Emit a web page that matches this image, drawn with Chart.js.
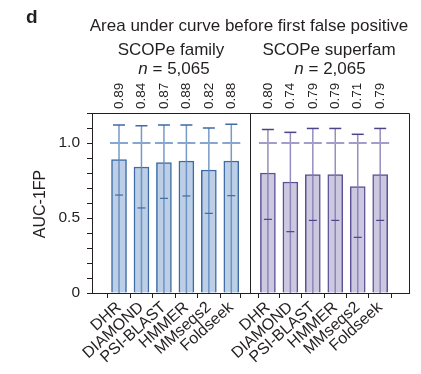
<!DOCTYPE html>
<html>
<head>
<meta charset="utf-8">
<script src="https://cdn.jsdelivr.net/npm/chart.js@4.4.1/dist/chart.umd.min.js"></script>
<style>
  html, body { margin: 0; padding: 0; background: #fff; }
</style>
</head>
<body>
<canvas id="aucChart" width="421" height="374"></canvas>
<script>
const methods = ['DHR', 'DIAMOND', 'PSI-BLAST', 'HMMER', 'MMseqs2', 'Foldseek'];

// SCOPe family (n = 5,065)
const familyAuc = [0.89, 0.84, 0.87, 0.88, 0.82, 0.88];
const familyUpper = [1.12, 1.115, 1.12, 1.12, 1.10, 1.125];
const familyLower = [0.653, 0.567, 0.631, 0.647, 0.531, 0.649];

// SCOPe superfamily (n = 2,065)
const superAuc = [0.80, 0.74, 0.79, 0.79, 0.71, 0.79];
const superUpper = [1.09, 1.071, 1.097, 1.097, 1.058, 1.097];
const superLower = [0.491, 0.409, 0.484, 0.484, 0.371, 0.484];

const capLevel = 1.0;
const yTickLabels = { '0': '0', '0.5': '0.5', '1': '1.0' };

// x layout (axis units: one bar slot = 1)
const groupOffset = 6.63;
const dividerAt = 5.82;
const familyPos = methods.map((m, i) => i);
const superPos = methods.map((m, i) => i + groupOffset);
const xTickPos = [...familyPos, dividerAt, ...superPos];
const xTickLabels = [...methods, '', ...methods];

const ink = '#231f20';
const font = "'Liberation Sans', Arial, sans-serif";

const groups = [
  { pos: familyPos, mean: familyAuc, upper: familyUpper, lower: familyLower,
    stem: 'rgba(95,136,190,0.85)', cap: '#3f6aa3', level: '#86a7d1' },
  { pos: superPos, mean: superAuc, upper: superUpper, lower: superLower,
    stem: 'rgba(130,122,180,0.85)', cap: '#4d4389', level: '#a29dc9' }
];

const decorations = {
  id: 'decorations',
  afterDatasetsDraw(chart) {
    const ctx = chart.ctx;
    const xs = chart.scales.x, ys = chart.scales.y;
    const area = chart.chartArea;

    // error bars
    groups.forEach(g => {
      g.pos.forEach((p, i) => {
        const x = xs.getPixelForValue(p);
        const y0 = ys.getPixelForValue(0);
        const yTop = ys.getPixelForValue(g.upper[i]);
        const yLow = ys.getPixelForValue(g.lower[i]);
        const yCap = ys.getPixelForValue(capLevel);
        ctx.save();
        ctx.lineWidth = 1.5;
        ctx.strokeStyle = g.stem;
        ctx.beginPath(); ctx.moveTo(x, y0); ctx.lineTo(x, yTop); ctx.stroke();
        ctx.strokeStyle = g.level;
        ctx.lineWidth = 2;
        ctx.beginPath(); ctx.moveTo(x - 9, yCap); ctx.lineTo(x + 9, yCap); ctx.stroke();
        ctx.strokeStyle = g.cap;
        ctx.lineWidth = 1.5;
        ctx.beginPath(); ctx.moveTo(x - 6, yTop); ctx.lineTo(x + 6, yTop); ctx.stroke();
        ctx.lineWidth = 1.2;
        ctx.beginPath(); ctx.moveTo(x - 4, yLow); ctx.lineTo(x + 4, yLow); ctx.stroke();
        ctx.restore();

        // value label, rotated
        ctx.save();
        ctx.translate(x, 109);
        ctx.rotate(-Math.PI / 2);
        ctx.fillStyle = ink;
        ctx.font = '13.5px ' + font;
        ctx.textAlign = 'left';
        ctx.textBaseline = 'middle';
        ctx.fillText(g.mean[i].toFixed(2), 0, 0);
        ctx.restore();
      });
    });

    // frame and divider
    ctx.save();
    ctx.strokeStyle = ink;
    ctx.lineWidth = 1;
    const xd = Math.round(xs.getPixelForValue(dividerAt)) + 0.5;
    ctx.beginPath();
    ctx.moveTo(area.left, area.top + 0.5);
    ctx.lineTo(area.right + 0.5, area.top + 0.5);
    ctx.lineTo(area.right + 0.5, area.bottom);
    ctx.moveTo(xd, area.top);
    ctx.lineTo(xd, area.bottom);
    ctx.stroke();
    ctx.restore();

    // titles
    ctx.save();
    ctx.fillStyle = ink;
    ctx.font = 'bold 19px ' + font;
    ctx.textAlign = 'left';
    ctx.textBaseline = 'alphabetic';
    ctx.fillText('d', 26, 23);

    ctx.font = '17px ' + font;
    ctx.textAlign = 'center';
    ctx.fillText('Area under curve before first false positive', 249, 31);
    ctx.fillText('SCOPe family', 171, 55);
    ctx.fillText('SCOPe superfam', 329, 55);

    const nLine = (cx, rest) => {
      ctx.font = 'italic 17px ' + font;
      const wn = ctx.measureText('n').width;
      ctx.font = '17px ' + font;
      const wr = ctx.measureText(rest).width;
      const start = cx - (wn + wr) / 2;
      ctx.textAlign = 'left';
      ctx.font = 'italic 17px ' + font;
      ctx.fillText('n', start, 74);
      ctx.font = '17px ' + font;
      ctx.fillText(rest, start + wn, 74);
    };
    nLine(174, ' = 5,065');
    nLine(330, ' = 2,065');

    // y-axis title
    ctx.translate(41, 204);
    ctx.rotate(-Math.PI / 2);
    ctx.textAlign = 'center';
    ctx.textBaseline = 'middle';
    ctx.font = '16px ' + font;
    ctx.fillText('AUC-1FP', 0, 0);
    ctx.restore();
  }
};

const ctx = document.getElementById('aucChart').getContext('2d');
new Chart(ctx, {
  type: 'bar',
  data: {
    datasets: [
      {
        label: 'SCOPe family',
        data: familyPos.map((p, i) => ({ x: p, y: familyAuc[i] })),
        backgroundColor: '#bccfe6',
        borderColor: '#3c6ba5',
        borderWidth: 1.5,
        barThickness: 15,
        grouped: false
      },
      {
        label: 'SCOPe superfam',
        data: superPos.map((p, i) => ({ x: p, y: superAuc[i] })),
        backgroundColor: '#ccc8e0',
        borderColor: '#5c5196',
        borderWidth: 1.5,
        barThickness: 15,
        grouped: false
      }
    ]
  },
  options: {
    responsive: false,
    animation: false,
    devicePixelRatio: 1,
    layout: { padding: { top: 113, right: 12, left: 0, bottom: 0 } },
    plugins: {
      legend: { display: false },
      tooltip: { enabled: false }
    },
    scales: {
      x: {
        type: 'linear',
        min: -0.66,
        max: 12.37,
        afterBuildTicks: s => { s.ticks = xTickPos.map(v => ({ value: v })); },
        afterFit: s => { s.height = 81; },
        ticks: {
          autoSkip: false,
          minRotation: 42,
          maxRotation: 42,
          padding: 0,
          color: ink,
          font: { family: font, size: 16 },
          callback: (v, i) => xTickLabels[i]
        },
        grid: { drawOnChartArea: false, tickLength: 5, color: ink },
        border: { color: ink, width: 1 }
      },
      y: {
        min: 0,
        max: 1.2,
        afterFit: s => { s.width = 92; },
        ticks: {
          autoSkip: false,
          stepSize: 0.1,
          padding: 7,
          color: ink,
          font: { family: font, size: 15.5 },
          callback: v => {
            const k = String(Math.round(v * 10) / 10);
            return yTickLabels[k] !== undefined ? yTickLabels[k] : '';
          }
        },
        grid: { drawOnChartArea: false, tickLength: 5, color: ink },
        border: { color: ink, width: 1 }
      }
    }
  },
  plugins: [decorations]
});
</script>
</body>
</html>
